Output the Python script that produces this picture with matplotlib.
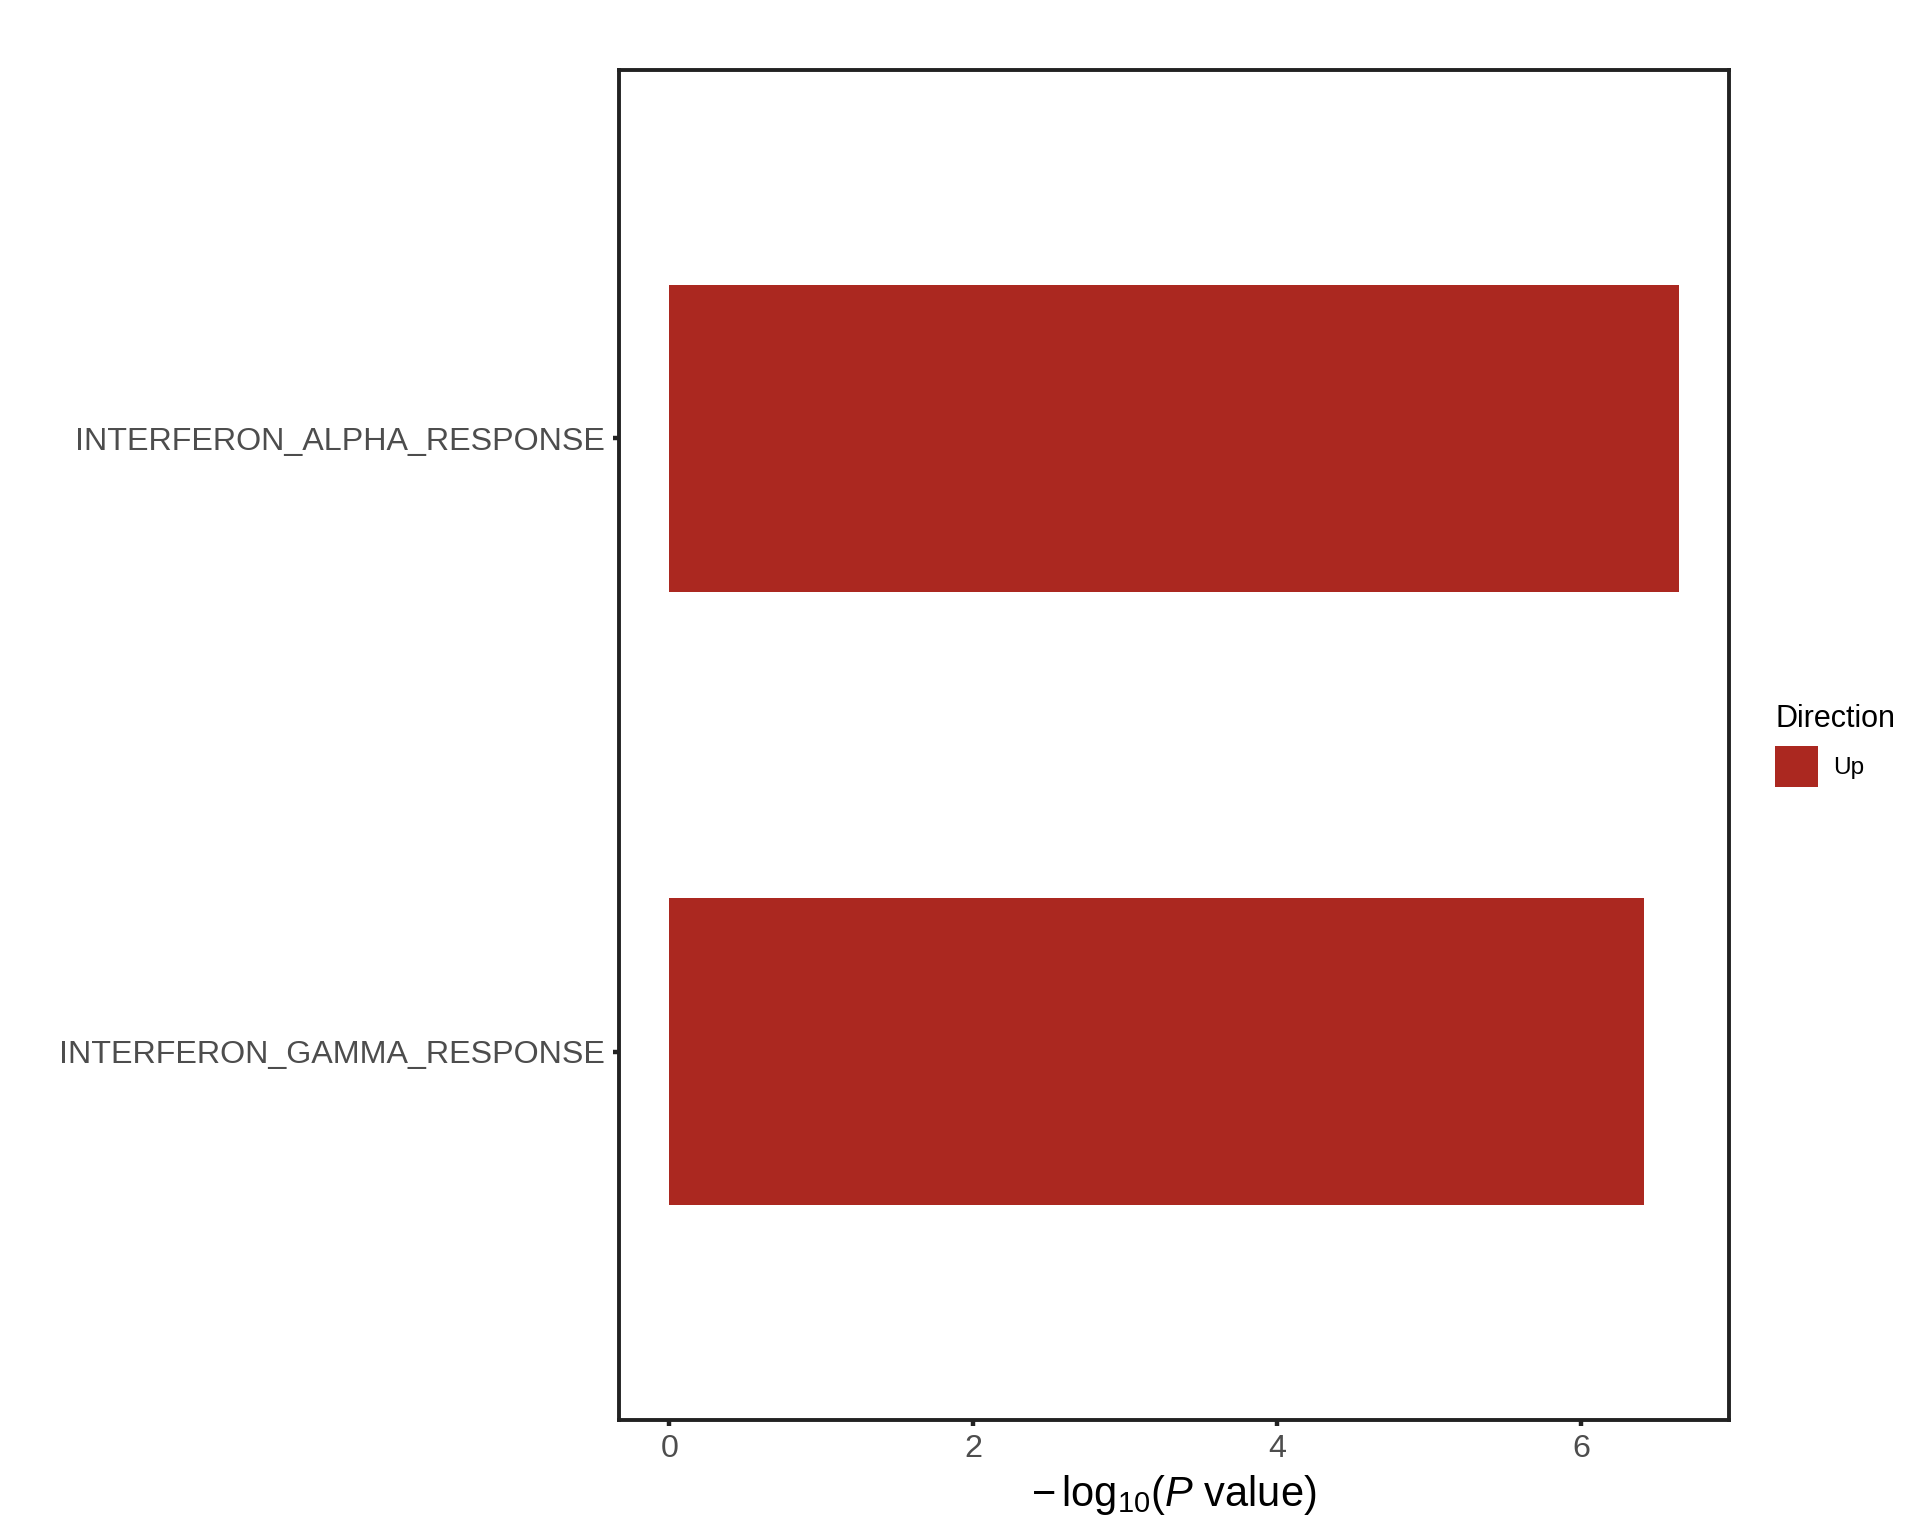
import matplotlib
matplotlib.use("Agg")
import matplotlib.pyplot as plt
from matplotlib.patches import Patch

# data
pathways = ["INTERFERON_ALPHA_RESPONSE", "INTERFERON_GAMMA_RESPONSE"]
neg_log10_p = [6.64, 6.41]
direction = ["Up", "Up"]

bar_color = "#AB2820"

plt.rcParams["font.family"] = ["Liberation Sans", "DejaVu Sans"]
plt.rcParams["mathtext.fontset"] = "custom"
plt.rcParams["mathtext.rm"] = "Liberation Sans"
plt.rcParams["mathtext.it"] = "Liberation Sans:italic"

fig = plt.figure(figsize=(9.6, 7.68), dpi=200)
ax = fig.add_axes([0.3224, 0.0755, 0.5781, 0.8789])

ypos = list(range(len(pathways), 0, -1))
ax.barh(ypos, neg_log10_p, height=0.5, color=bar_color, label="Up")

xmax = max(neg_log10_p)
ax.set_xlim(-0.05 * xmax, 1.05 * xmax)
ax.set_ylim(0.4, len(pathways) + 0.6)
ax.set_yticks(ypos)
ax.set_yticklabels(pathways)
ax.set_xticks([0, 2, 4, 6])

for s in ax.spines.values():
    s.set_linewidth(1.4)
    s.set_color("#222222")

ax.tick_params(axis="both", length=2.2, width=1.6, color="#222222",
               labelcolor="#4D4D4D", labelsize=11.6, pad=3)
ax.set_xlabel(r"$-\,\mathrm{log}_{10}(\mathit{P}\ \mathrm{value})$", fontsize=15,
              color="black", labelpad=3)

handles = [Patch(facecolor=bar_color, label="Up")]
leg = ax.legend(handles=handles, title="Direction", loc="upper left",
                bbox_to_anchor=(1.022, 0.547), frameon=False,
                fontsize=8.8, title_fontsize=11, handlelength=1.75,
                handleheight=2.2, handletextpad=0.6, alignment="left")

fig.savefig("out.png", dpi=200)
